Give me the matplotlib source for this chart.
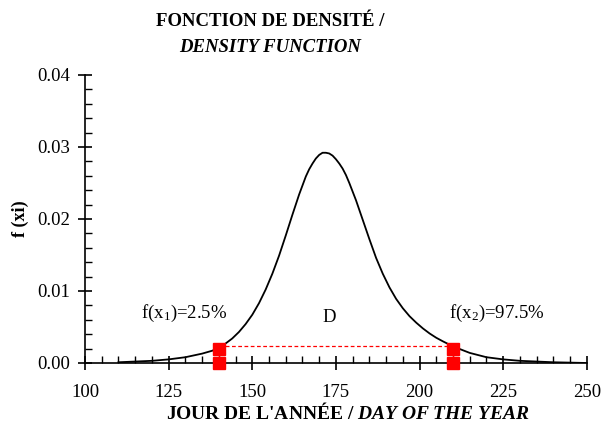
import matplotlib
matplotlib.use('Agg')
import matplotlib.pyplot as plt
from matplotlib.ticker import MultipleLocator, FormatStrFormatter

# density curve
day = [110, 115, 120, 125, 130, 135, 138, 140, 142, 144, 146, 148, 150, 152,
       154, 156, 158, 160, 162, 164, 166, 167, 168, 169, 170, 171, 172, 173,
       174, 175, 176, 177, 178, 179, 181, 183, 185, 187, 189, 191, 193, 195,
       197, 199, 201, 203, 205, 207, 210, 215, 220, 225, 230, 235, 240, 250]
dens = [0.0001, 0.0002, 0.0003, 0.0005, 0.0008, 0.0013, 0.0017, 0.0021,
        0.0027, 0.0034, 0.0043, 0.0054, 0.0067, 0.0083, 0.0102, 0.0124,
        0.0149, 0.0177, 0.0206, 0.0234, 0.0259, 0.0269, 0.0277, 0.0284,
        0.0289, 0.0292, 0.0292, 0.0291, 0.0288, 0.0283, 0.0277, 0.0270,
        0.0261, 0.0250, 0.0226, 0.0199, 0.0172, 0.0146, 0.0124, 0.0105,
        0.0089, 0.0076, 0.0065, 0.0056, 0.0048, 0.0041, 0.0035, 0.0030,
        0.0023, 0.0014, 0.0008, 0.0005, 0.0003, 0.0002, 0.0001, 0.0000]

# quantile markers (x1, x2)
q_day = [140, 210]
q_dens = [0.0020, 0.0020]
d_level = 0.0024

plt.rcParams['font.family'] = ['Liberation Serif', 'DejaVu Serif']
plt.rcParams['mathtext.fontset'] = 'custom'
plt.rcParams['mathtext.rm'] = 'Liberation Serif'
plt.rcParams['mathtext.it'] = 'Liberation Serif:italic'
plt.rcParams['mathtext.bf'] = 'Liberation Serif:bold'
plt.rcParams['mathtext.bfit'] = 'Liberation Serif:bold:italic'

fig = plt.figure(figsize=(6.05, 4.33), dpi=100)
ax = fig.add_axes([0.1405, 0.1617, 0.8295, 0.6651])

ax.plot(day, dens, color='black', lw=1.3, solid_joinstyle='round')

# red markers and dashed link
ax.plot([q_day[0], q_day[1]], [d_level, d_level], color='red', lw=0.9,
        ls=(0, (3, 2)))
for xq, yq in zip(q_day, q_dens):
    ax.plot([xq, xq], [0, yq], color='red', lw=1.0)
    ax.plot([xq, xq], [0, yq], ls='none', marker='s', ms=8, color='red',
            clip_on=False, zorder=5)

ax.text(129.5, 0.0069, 'f(x$_1$)=2.5%', ha='center', va='center', fontsize=13.5)
ax.text(173, 0.0063, 'D', ha='center', va='center', fontsize=13.5)
ax.text(223, 0.0069, 'f(x$_2$)=97.5%', ha='center', va='center', fontsize=13.5)

ax.set_xlim(100, 250)
ax.set_ylim(0, 0.04)
ax.xaxis.set_major_locator(MultipleLocator(25))
ax.xaxis.set_minor_locator(MultipleLocator(5))
ax.yaxis.set_major_locator(MultipleLocator(0.01))
ax.yaxis.set_minor_locator(MultipleLocator(0.002))
ax.yaxis.set_major_formatter(FormatStrFormatter('%.2f'))

for s in ['top', 'right']:
    ax.spines[s].set_visible(False)
ax.spines['left'].set_linewidth(1.2)
ax.spines['bottom'].set_linewidth(1.2)
ax.tick_params(which='major', direction='inout', length=10, width=1.2,
               labelsize=13.5)
ax.tick_params(axis='x', which='major', pad=10)
ax.tick_params(axis='y', which='major', pad=6)
ax.tick_params(which='minor', direction='in', length=5, width=1.0)

ax.set_xlabel("JOUR DE L'ANNÉE / $\\mathbfit{DAY\\ OF\\ THE\\ YEAR}$",
              fontsize=14, fontweight='bold')
ax.xaxis.set_label_coords(0.524, -0.135)
ax.set_ylabel('f (xi)', fontsize=13, fontweight='bold', labelpad=6)

fig.text(0.446, 0.951, 'FONCTION DE DENSITÉ /', ha='center', va='center',
         fontsize=13.5, fontweight='bold')
fig.text(0.446, 0.891, 'DENSITY FUNCTION', ha='center', va='center',
         fontsize=13.5, fontweight='bold', style='italic')

fig.savefig('out.png', dpi=100)
